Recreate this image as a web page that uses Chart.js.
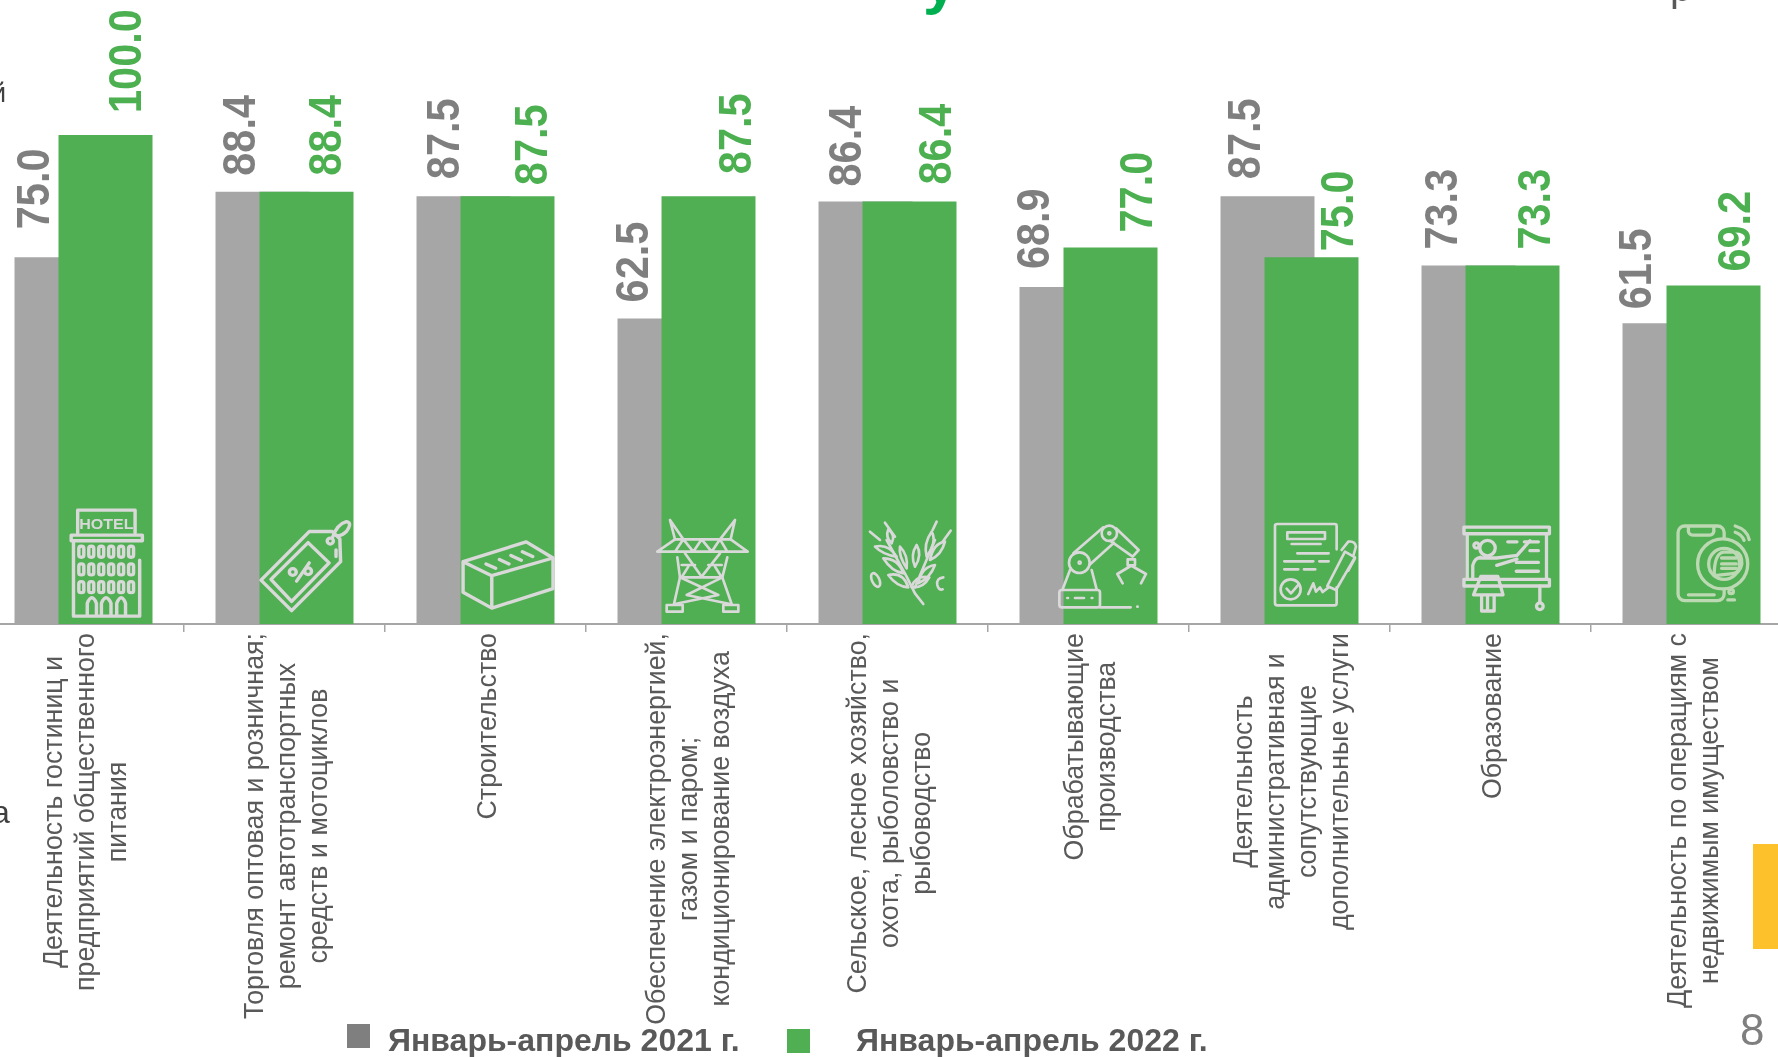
<!DOCTYPE html>
<html lang="ru">
<head>
<meta charset="utf-8">
<title>Январь-апрель 2021-2022</title>
<script src="https://cdn.jsdelivr.net/npm/chart.js@4"></script>
<style>
  html, body { margin: 0; padding: 0; background: #fff; overflow: hidden; width: 1778px; height: 1057px; }
  body { position: relative; font-family: "Liberation Sans", Arial, sans-serif; }
  #chart { position: absolute; left: -17px; top: 0; }
  #icons { position: absolute; left: 0; top: 0; pointer-events: none; }
  .abs { position: absolute; white-space: nowrap; line-height: 1; }
  .sq { position: absolute; width: 23px; height: 24px; }
  .lg { font-weight: bold; font-size: 32px; color: #595959; top: 1024px; }
  .ttl { font-size: 62px; font-weight: bold; color: #00b050; top: -54px; }
</style>
</head>
<body>
<canvas id="chart" width="1809" height="1057"></canvas>

<svg id="icons" width="1778" height="1057" fill="none" stroke="#d9d9d9" stroke-linecap="round" stroke-linejoin="round">
  <!-- hotel, tag, brick -->
  <g transform="translate(0,480) scale(0.3827,0.368)" stroke-width="9">
    <path d="M203 144V82H353V144"/>
    <text x="278" y="134" font-family="Liberation Sans" font-weight="bold" font-size="42" fill="#d9d9d9" stroke="none" text-anchor="middle">HOTEL</text>
    <rect x="186" y="150" width="186" height="15"/>
    <path d="M192 165V370H365V218M192 370"/>
    <g id="winRow">
      <rect x="206" y="180" width="13" height="30" rx="6"/><rect x="232" y="180" width="13" height="30" rx="6"/><rect x="258" y="180" width="13" height="30" rx="6"/><rect x="284" y="180" width="13" height="30" rx="6"/><rect x="310" y="180" width="13" height="30" rx="6"/><rect x="336" y="180" width="13" height="30" rx="6"/>
    </g>
    <use href="#winRow" y="48"/><use href="#winRow" y="96"/>
    <path d="M228 368V335Q240 305 252 335V368M265 368V335Q277 305 290 335V368M305 368V335Q317 305 328 335V368"/>
    <path d="M682 272L808 140H868L888 160L890 222L762 355Z"/>
    <path d="M708 270L805 170L860 225L762 330Z"/>
    <circle cx="863" cy="166" r="8"/>
    <path d="M868 158Q880 120 905 113Q922 115 905 140Q890 155 878 150M878 190V208"/>
    <path d="M775 275L808 225"/><circle cx="765" cy="250" r="9"/><circle cx="805" cy="248" r="9"/>
    <path d="M1210 222L1375 168L1445 212V295L1285 348L1210 305ZM1210 222L1285 260L1445 212M1285 260V348"/>
    <path d="M1270 228L1295 240M1305 216L1330 228M1335 205L1362 218M1365 195L1392 208"/>
  </g>
  <!-- power line tower, wheat -->
  <g transform="translate(640,500) scale(0.3333)" stroke-width="8">
    <path d="M90 60L130 118M90 60L105 118M285 60L240 118M285 60L272 118"/>
    <path d="M52 155H323M105 118H272M52 155L105 118M323 155L272 118M105 155L130 118L160 155L185 118L215 155L240 118L262 155"/>
    <path d="M112 172L120 232L102 312M262 172L247 232L275 312M135 160L185 230L240 160M120 232H247M125 195L165 195M205 195L245 195M145 200L125 232M225 200L245 232"/>
    <path d="M120 232L235 285L105 312M247 232L140 285L270 312"/>
    <rect x="80" y="315" width="48" height="20"/><rect x="250" y="315" width="45" height="20"/>
    <path d="M850 312L825 280L800 230L740 120M825 262L885 120"/>
    <path d="M735 68L765 110M690 95L720 120M800 205Q775 165 780 140Q805 165 800 205ZM770 170Q730 165 705 140Q745 130 770 170ZM790 220Q755 215 730 175Q775 175 790 220ZM805 262Q770 260 745 225Q790 215 805 262ZM755 130Q735 110 745 88Q768 105 755 130Z"/>
    <path d="M825 200Q810 165 830 135Q848 165 825 200ZM860 170Q850 130 875 95Q892 125 860 170ZM835 250Q870 235 885 195Q845 200 835 250ZM815 262Q850 265 868 232Q825 225 815 262ZM870 180Q905 165 915 125Q880 130 870 180ZM890 65L878 90M932 92L908 125"/>
    <ellipse cx="707" cy="240" rx="11" ry="22" transform="rotate(-25 707 240)"/>
    <path d="M910 232Q888 235 892 255Q896 272 908 268"/>
  </g>
  <!-- robot arm, signed document -->
  <g transform="translate(1040,500) scale(0.3333)" stroke-width="8">
    <rect x="58" y="270" width="122" height="52" rx="8"/>
    <path d="M105 294H132M82 294H84M155 294H157M180 322H272M292 320H293"/>
    <circle cx="118" cy="188" r="31"/><circle cx="119" cy="188" r="3"/>
    <circle cx="208" cy="100" r="23"/><circle cx="208" cy="100" r="3"/>
    <path d="M100 160L190 82M148 195L222 128M228 85L296 150L278 170L210 122"/>
    <path d="M90 210L68 268M155 210L170 268"/>
    <rect x="263" y="178" width="22" height="18"/>
    <path d="M272 198L232 222L248 250M276 198L318 222L303 250"/>
    <path d="M890 148V78Q890 72 884 72H712Q705 72 705 78V308Q705 316 712 316H884Q890 316 890 308V262"/>
    <rect x="742" y="97" width="113" height="20"/>
    <path d="M755 132H842M772 160H866M733 184H820M838 184H866M733 208H775M792 208H826"/>
    <circle cx="752" cy="268" r="30"/>
    <path d="M740 266L753 280L775 255"/>
    <path d="M805 282L820 250L828 275L840 262L848 276L866 262"/>
    <path d="M862 258L915 155L945 172L888 270ZM905 150L925 125Q945 122 948 140L940 168M945 175L925 212"/>
  </g>
  <!-- teacher -->
  <g transform="translate(1200,480) scale(0.3686,0.368)" stroke-width="9">
    <rect x="716" y="128" width="232" height="18"/>
    <rect x="716" y="270" width="232" height="18"/>
    <path d="M725 146V268M940 146V268M922 288V333"/>
    <circle cx="922" cy="343" r="9"/>
    <path d="M835 168H860M880 168H918M895 192H918M858 224H918M858 248H918"/>
    <circle cx="780" cy="185" r="21"/><circle cx="750" cy="178" r="7"/>
    <path d="M755 212H805L860 205L895 165M805 232L860 215M740 268V232Q745 212 760 210M762 262H808L822 312H742ZM764 312V356H798V312M780 312V356"/>
    <!-- phone -->
    <g stroke="#bcd9b4">
      <rect x="1297" y="125" width="125" height="203" rx="18"/>
      <path d="M1325 128V140Q1327 150 1340 150H1380Q1392 150 1394 140V128M1325 312H1395"/>
      <circle cx="1418" cy="228" r="68" fill="#50ae53"/>
      <circle cx="1422" cy="228" r="42"/>
      <path d="M1395 260Q1395 200 1420 196H1455Q1470 200 1470 228Q1465 255 1440 255Q1410 258 1395 260Z"/>
      <path d="M1415 212H1455M1415 228H1455M1415 240H1455M1452 125Q1485 135 1490 162M1452 142Q1470 148 1476 164"/>
      <circle cx="1441" cy="303" r="6"/><path d="M1432 326H1450"/>
    </g>
  </g>
</svg>

<!-- pieces of slide text cut off at the frame edges -->
<div class="abs" style="left:-9px;top:80px;font-size:27px;color:#404040">й</div>
<div class="abs" style="left:-8px;top:796px;font-size:32px;color:#404040">а</div>
<div class="abs ttl" style="left:883px">с</div>
<div class="abs ttl" style="left:923px;top:-50px">у</div>
<div class="abs ttl" style="left:962px">с</div>
<div class="abs ttl" style="left:1025px">о</div>
<div class="abs ttl" style="left:1052px">о</div>
<div class="abs" style="left:1670px;top:-33px;font-size:40px;color:#595959">р</div>

<div class="abs" style="left:1753px;top:844px;width:25px;height:105px;background:#fdc12c"></div>
<div class="abs" style="left:1740px;top:1008px;font-size:44px;color:#7f7f7f">8</div>

<div class="sq" style="left:347px;top:1024px;background:#7f7f7f"></div>
<div class="abs lg" style="left:388px">Январь-апрель 2021 г.</div>
<div class="sq" style="left:787px;top:1029px;background:#50ae53"></div>
<div class="abs lg" style="left:856px">Январь-апрель 2022 г.</div>

<script>
const categories = [
  ['Деятельность гостиниц и', 'предприятий общественного', 'питания'],
  ['Торговля оптовая и розничная;', 'ремонт автотранспортных', 'средств и мотоциклов'],
  ['Строительство'],
  ['Обеспечение электроэнергией,', 'газом и паром;', 'кондиционирование воздуха'],
  ['Сельское, лесное хозяйство,', 'охота, рыболовство и', 'рыбоводство'],
  ['Обрабатывающие', 'производства'],
  ['Деятельность', 'административная и', 'сопутствующие', 'дополнительные услуги'],
  ['Образование'],
  ['Деятельность по операциям с', 'недвижимым имуществом']
];
const values2021 = [75.0, 88.4, 87.5, 62.5, 86.4, 68.9, 87.5, 73.3, 61.5];
const values2022 = [100.0, 88.4, 87.5, 87.5, 86.4, 77.0, 75.0, 73.3, 69.2];

// the value labels were placed by hand in the slide, so each has its own nudge
const nudgeX = [
  [-25, -20, -17, -29, -17, -30, -20, -24, -31],
  [23, 22, 27, 30, 29, 29, 29, 25, 24]
];
const nudgeY = [
  [28, 16, 17, 16, 15, 18, 17, 16, 14],
  [22, 16, 11, 22, 17, 15, 6, 16, 14]
];
const labelColors = ['#7f7f7f', '#4caf50'];

const greenOnTop = {
  id: 'greenOnTop',
  beforeDatasetsDraw(chart) {
    chart.getSortedVisibleDatasetMetas().forEach((m) => m.controller.draw());
    return false;
  }
};

const valueLabels = {
  id: 'valueLabels',
  afterDraw(chart) {
    const ctx = chart.ctx;
    chart.getSortedVisibleDatasetMetas().forEach((meta, d) => {
      meta.data.forEach((bar, i) => {
        ctx.save();
        ctx.translate(bar.x + nudgeX[d][i], bar.y - nudgeY[d][i]);
        ctx.rotate(-Math.PI / 2);
        ctx.scale(1, 1.13);
        ctx.font = 'bold 41.5px "Liberation Sans"';
        ctx.fillStyle = labelColors[d];
        ctx.textAlign = 'left';
        ctx.textBaseline = 'middle';
        ctx.fillText(chart.data.datasets[d].data[i].toFixed(1), 0, 0);
        ctx.restore();
      });
    });
  }
};

// chart.js right-aligns rotated multi-line ticks; the slide centres them in a block
const categoryLabels = {
  id: 'categoryLabels',
  afterDraw(chart) {
    const ctx = chart.ctx;
    const scale = chart.scales.x;
    const topY = 633;
    const lineH = 32;
    ctx.save();
    ctx.font = '26.8px "Liberation Sans"';
    ctx.fillStyle = '#595959';
    ctx.textAlign = 'center';
    ctx.textBaseline = 'middle';
    categories.forEach((lines, i) => {
      const maxW = Math.max(...lines.map((l) => ctx.measureText(l).width));
      const cx = scale.getPixelForTick(i) + 3;
      lines.forEach((line, n) => {
        ctx.save();
        ctx.translate(cx + (n - (lines.length - 1) / 2) * lineH, topY + maxW / 2);
        ctx.rotate(-Math.PI / 2);
        ctx.fillText(line, 0, 0);
        ctx.restore();
      });
    });
    ctx.restore();
  }
};

new Chart(document.getElementById('chart'), {
  type: 'bar',
  data: {
    labels: categories,
    datasets: [
      { label: 'Январь-апрель 2021 г.', data: values2021, backgroundColor: '#a6a6a6' },
      { label: 'Январь-апрель 2022 г.', data: values2022, backgroundColor: '#50ae53' }
    ]
  },
  options: {
    responsive: false,
    animation: false,
    events: [],
    categoryPercentage: 0.4378,
    barPercentage: 2.136,
    layout: { padding: { top: 135, bottom: 425, left: 0, right: 0 } },
    plugins: { legend: { display: false }, tooltip: { enabled: false } },
    scales: {
      x: {
        ticks: { display: false },
        border: { color: '#a6a6a6', width: 2 },
        grid: { drawOnChartArea: false, color: '#a6a6a6', lineWidth: 1.5, tickLength: 8 }
      },
      y: { display: false, min: 0, max: 100 }
    }
  },
  plugins: [greenOnTop, valueLabels, categoryLabels]
});
</script>
</body>
</html>
